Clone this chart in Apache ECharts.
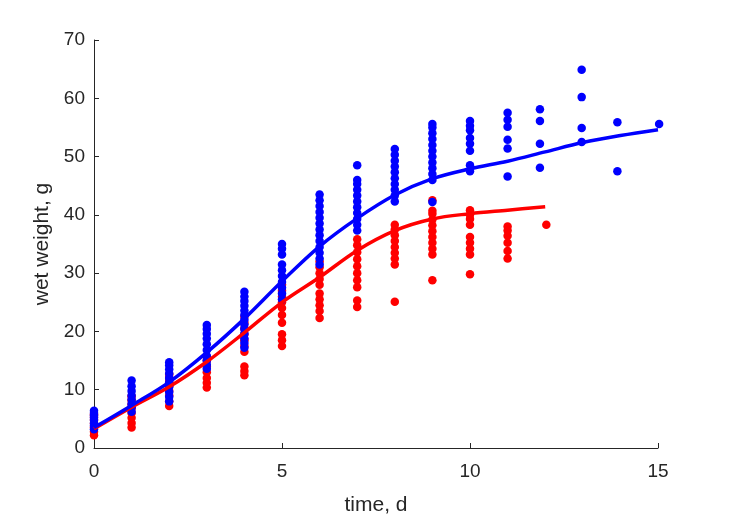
<!DOCTYPE html>
<html>
<head>
<meta charset="utf-8">
<script src="https://cdn.jsdelivr.net/npm/echarts@6/dist/echarts.min.js"></script>
<style>html,body{margin:0;padding:0;background:#fff}#c{width:729px;height:521px}</style>
</head>
<body>
<div id="c"></div>
<script>
// Observed wet weight (g) by day, blue group
const blueObs = [
  [0,[3.2,3.8,4.3,4.8,5.2,5.6,6.0,6.4]],
  [1,[6.2,7.0,7.6,8.3,9.0,9.8,10.6,11.6]],
  [2,[8.0,8.8,9.6,10.5,11.3,12.0,12.8,13.5,14.2,14.7]],
  [3,[13.6,14.3,15.0,15.8,16.8,17.8,18.8,19.6,20.4,21.1]],
  [4,[17.2,18.0,18.8,19.6,20.4,21.2,22.0,22.8,23.6,24.4,25.2,26.0,26.8]],
  [5,[25.5,26.5,27.5,28.5,29.5,30.5,31.5,33.2,34.2,35.0]],
  [6,[31.5,32.5,33.5,34.5,35.5,36.5,37.5,38.5,39.5,40.5,41.5,42.5,43.5]],
  [7,[37.3,38.3,39.3,40.3,41.3,42.3,43.3,44.3,45.3,46.0,48.5]],
  [8,[42.3,43.3,44.3,45.3,46.3,47.3,48.3,49.3,50.3,51.3]],
  [9,[42.2,46.0,47.0,48.0,49.0,50.0,51.0,52.0,53.0,54.0,55.0,55.6]],
  [10,[47.5,48.5,51.0,52.2,53.2,54.5,55.3,56.1]],
  [11,[46.6,51.4,52.9,55.1,56.3,57.5]],
  [11.86,[48.1,52.2,56.1,58.1]],
  [12.97,[52.5,54.9,60.2,64.9]],
  [13.92,[47.5,55.9]],
  [15.03,[55.6]]
];
// Observed wet weight (g) by day, red group
const redObs = [
  [0,[2.2,2.8,3.5,4.2,4.8,5.3,5.8]],
  [1,[3.5,4.3,5.2,6.0,6.8,7.5,8.2,8.9]],
  [2,[7.2,8.0,9.0,9.8,10.6,11.4,12.0,12.6]],
  [3,[10.4,11.2,12.0,13.0,14.0,15.0,15.6]],
  [4,[12.5,13.2,14.0,16.5,17.5,18.5,19.5,20.5,21.5,22.5]],
  [5,[17.5,18.5,19.5,21.5,22.8,24.0,25.0,26.0,27.0,28.0]],
  [6,[22.3,23.5,24.5,25.5,26.5,28.0,29.0,30.0,31.0,32.0]],
  [7,[24.2,25.3,27.6,28.8,30.0,31.2,32.4,33.6,34.8,35.8]],
  [8,[25.1,31.5,32.5,33.5,34.5,35.5,36.5,37.5,38.3]],
  [9,[28.8,33.2,34.2,35.2,36.2,37.2,38.2,39.2,40.2,40.7,42.5]],
  [10,[29.8,33.2,34.2,35.2,36.2,38.3,39.3,40.0,40.8]],
  [11,[32.5,33.8,35.2,36.4,37.3,38.0]],
  [12.03,[38.3]]
];
// Fitted curves
const fitDays = [0,1,2,3,4,5,6,7,8,9,10,11,12,13,14,15];
const blueFit = [3.5,7.3,11.3,16.4,22.2,28.6,34.6,39.4,43.4,46.2,47.9,49.2,50.8,52.4,53.6,54.6];
const redFit  = [3.3,7.0,10.5,14.8,19.8,25.0,29.3,33.9,37.3,39.3,40.2,40.8,41.4];
const xTicks = [0,5,10,15];
const yTicks = [0,10,20,30,40,50,60,70];

const flat = obs => obs.flatMap(([d, ys]) => ys.map(y => [d, y]));
const fitPts = (ys) => ys.map((y, i) => [fitDays[i], y]);

const axisColor = '#262626';
const font = 'Liberation Sans';
const chart = echarts.init(document.getElementById('c'), null, {renderer: 'canvas'});
chart.setOption({
  animation: false,
  backgroundColor: '#fff',
  grid: {left: 94, right: 71, top: 40, bottom: 68, containLabel: false},
  xAxis: {
    type: 'value', min: 0, max: 15, interval: 5,
    name: 'time, d', nameLocation: 'middle', nameGap: 47,
    nameTextStyle: {color: axisColor, fontSize: 21, fontFamily: font},
    axisLine: {show: true, lineStyle: {color: axisColor, width: 1}},
    axisTick: {show: true, inside: true, length: 5, lineStyle: {color: axisColor}},
    axisLabel: {color: axisColor, fontSize: 19, fontFamily: font, margin: 14},
    splitLine: {show: false}
  },
  yAxis: {
    type: 'value', min: 0, max: 70, interval: 10,
    name: 'wet weight, g', nameLocation: 'middle', nameGap: 39,
    nameTextStyle: {color: axisColor, fontSize: 21, fontFamily: font},
    axisLine: {show: true, lineStyle: {color: axisColor, width: 1}},
    axisTick: {show: true, inside: true, length: 5, lineStyle: {color: axisColor}},
    axisLabel: {color: axisColor, fontSize: 19, fontFamily: font, margin: 9},
    splitLine: {show: false}
  },
  series: [
    {type: 'scatter', data: flat(redObs), symbolSize: 8.5, clip: false, itemStyle: {color: '#ff0000', opacity: 1}, z: 2},
    {type: 'scatter', data: flat(blueObs), symbolSize: 8.5, clip: false, itemStyle: {color: '#0000ff', opacity: 1}, z: 3},
    {type: 'line', data: fitPts(redFit), smooth: 0.35, showSymbol: false, lineStyle: {color: '#ff0000', width: 3.5}, z: 4},
    {type: 'line', data: fitPts(blueFit), smooth: 0.35, showSymbol: false, lineStyle: {color: '#0000ff', width: 3.5}, z: 5}
  ]
});
</script>
</body>
</html>
